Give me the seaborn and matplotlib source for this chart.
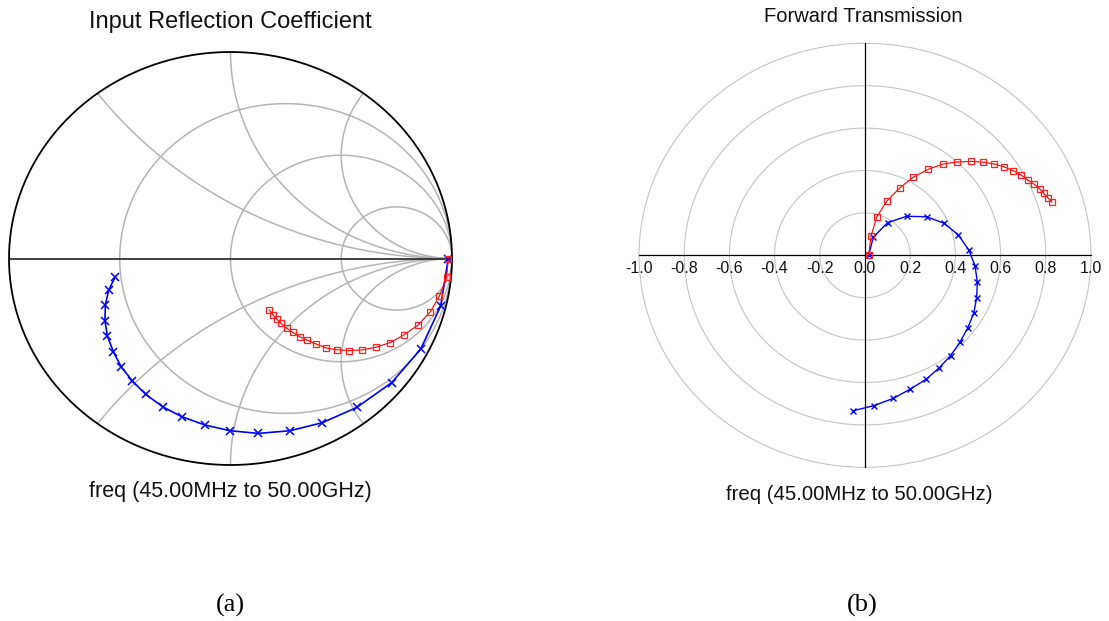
import numpy as np
import matplotlib
matplotlib.use("Agg")
import matplotlib.pyplot as plt
import seaborn as sns

sns.set_theme(style="white")
plt.rcParams["font.family"] = ["Liberation Sans", "DejaVu Sans"]

# S11 traces (real / imaginary parts of the reflection coefficient)
s11_blue_re = [0.983, 0.949, 0.859, 0.728, 0.570, 0.415, 0.269, 0.126, -0.002, -0.117,
               -0.220, -0.306, -0.383, -0.443, -0.494, -0.529, -0.556, -0.567, -0.565,
               -0.550, -0.520]
s11_blue_im = [0.000, -0.230, -0.438, -0.601, -0.721, -0.795, -0.834, -0.847, -0.834, -0.806,
               -0.766, -0.718, -0.658, -0.593, -0.524, -0.451, -0.375, -0.301, -0.225,
               -0.153, -0.088]
s11_red_re = [0.983, 0.976, 0.943, 0.902, 0.847, 0.783, 0.719, 0.655, 0.592, 0.534,
              0.479, 0.431, 0.386, 0.345, 0.312, 0.281, 0.254, 0.228, 0.209, 0.190, 0.175]
s11_red_im = [-0.002, -0.091, -0.182, -0.258, -0.322, -0.370, -0.408, -0.430, -0.443,
              -0.446, -0.442, -0.433, -0.414, -0.395, -0.379, -0.357, -0.338, -0.314,
              -0.293, -0.272, -0.249]

# S21 traces (real / imaginary parts of the forward transmission)
s21_red_re = [0.016, 0.027, 0.052, 0.097, 0.155, 0.214, 0.280, 0.347, 0.408, 0.468,
              0.524, 0.571, 0.615, 0.656, 0.690, 0.720, 0.748, 0.773, 0.791, 0.808, 0.827]
s21_red_im = [0.000, 0.092, 0.181, 0.256, 0.319, 0.369, 0.406, 0.431, 0.440, 0.443,
              0.439, 0.431, 0.417, 0.399, 0.379, 0.355, 0.336, 0.313, 0.292, 0.272, 0.251]
s21_blue_re = [0.016, 0.037, 0.100, 0.184, 0.273, 0.350, 0.413, 0.459, 0.487, 0.497,
               0.494, 0.481, 0.454, 0.420, 0.379, 0.329, 0.270, 0.199, 0.125, 0.040, -0.052]
s21_blue_im = [0.000, 0.086, 0.154, 0.184, 0.182, 0.151, 0.096, 0.025, -0.049, -0.127,
               -0.200, -0.274, -0.344, -0.410, -0.473, -0.530, -0.585, -0.632, -0.675,
               -0.709, -0.733]

# chart grid definitions
smith_r = [1 / 3, 1.0, 3.0]
smith_x = [0.5, 1.0, 2.0]
polar_radii = [0.2, 0.4, 0.6, 0.8, 1.0]
polar_ticks = [-1.0, -0.8, -0.6, -0.4, -0.2, 0.0, 0.2, 0.4, 0.6, 0.8, 1.0]

W, H = 1109, 621
fig = plt.figure(figsize=(W / 100, H / 100), dpi=100)
fig.patch.set_facecolor("white")


def px_axes(x0, y0, x1, y1):
    return fig.add_axes([x0 / W, 1 - y1 / H, (x1 - x0) / W, (y1 - y0) / H])


def px_text(x, y, s, **kw):
    fig.text(x / W, 1 - y / H, s, ha="center", va="center", **kw)


# ---------------- Smith chart ----------------
ax1 = px_axes(9, 52, 452, 465)
ax1.set_xlim(-1, 1)
ax1.set_ylim(-1, 1)
ax1.axis("off")

t = np.linspace(0, 2 * np.pi, 721)
grid_kw = dict(color="#b4b4b4", lw=1.1, zorder=1)
for r in smith_r:
    c, rad = r / (1 + r), 1 / (1 + r)
    ax1.plot(c + rad * np.cos(t), rad * np.sin(t), **grid_kw)
rr = np.concatenate([np.linspace(0, 5, 400), np.geomspace(5, 1e5, 400)])
for xv in smith_x:
    for sgn in (1, -1):
        z = rr + 1j * sgn * xv
        g = (z - 1) / (z + 1)
        ax1.plot(g.real, g.imag, **grid_kw)
ax1.plot(np.cos(t), np.sin(t), color="black", lw=1.3, zorder=2, clip_on=False)
ax1.plot([-1, 1], [0, 0], color="#222222", lw=1.2, zorder=2)

sns.lineplot(x=s11_red_re, y=s11_red_im, sort=False, estimator=None, ax=ax1,
             color="red", lw=0.8, marker="s", ms=5, mfc="none", mec="#ff2020", mew=0.9,
             zorder=4)
sns.lineplot(x=s11_blue_re, y=s11_blue_im, sort=False, estimator=None, ax=ax1,
             color="blue", lw=1.2, marker="x", ms=5.5, mec="blue", mew=1.1, zorder=3)

# ---------------- Polar chart ----------------
ax2 = px_axes(639, 43.3, 1091, 467.3)
ax2.set_xlim(-1, 1)
ax2.set_ylim(-1, 1)
ax2.axis("off")
for rad in polar_radii:
    ax2.plot(rad * np.cos(t), rad * np.sin(t), color="#c4c4c4", lw=0.8, zorder=1,
             clip_on=False)
ax2.plot([-1, 1], [0, 0], color="black", lw=0.9, zorder=2, clip_on=False)
ax2.plot([0, 0], [-1, 1], color="black", lw=0.9, zorder=2, clip_on=False)
for tk in polar_ticks:
    ax2.text(tk, -0.06, f"{tk:.1f}", ha="center", va="center", fontsize=11.5,
             color="#111111")

sns.lineplot(x=s21_red_re, y=s21_red_im, sort=False, estimator=None, ax=ax2,
             color="red", lw=0.8, marker="s", ms=5, mfc="none", mec="#ff2020", mew=0.9,
             zorder=4)
sns.lineplot(x=s21_blue_re, y=s21_blue_im, sort=False, estimator=None, ax=ax2,
             color="blue", lw=1.0, marker="x", ms=5, mec="blue", mew=1.0, zorder=3)

# ---------------- Labels ----------------
px_text(230.5, 22, "Input Reflection Coefficient", fontsize=17, color="#111111")
px_text(230.5, 491, "freq (45.00MHz to 50.00GHz)", fontsize=15.5, color="#111111")
px_text(863, 16, "Forward Transmission", fontsize=14.5, color="#111111")
px_text(859, 494, "freq (45.00MHz to 50.00GHz)", fontsize=14.7, color="#111111")
px_text(230, 605, "(a)", fontsize=19, family="Liberation Serif", color="black")
px_text(862, 605, "(b)", fontsize=19, family="Liberation Serif", color="black")

fig.savefig("out.png", dpi=100, facecolor="white")
